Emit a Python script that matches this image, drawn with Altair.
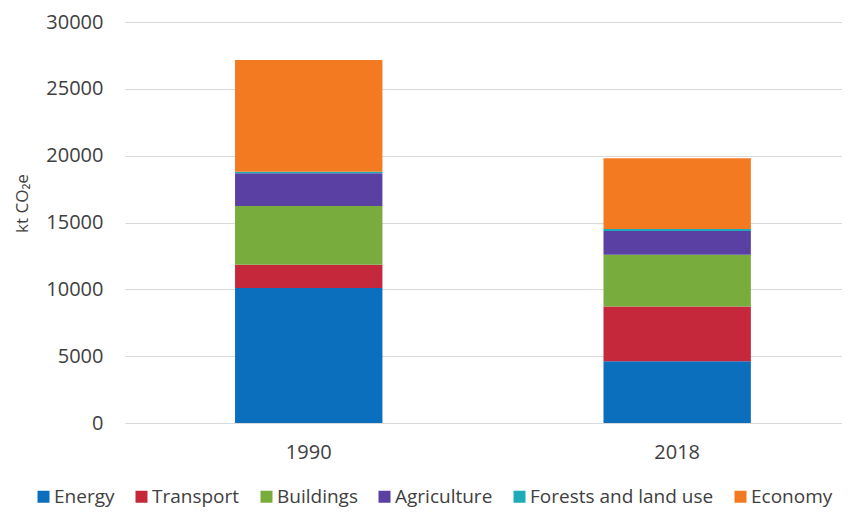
import altair as alt
import pandas as pd

years = ["1990", "2018"]
sectors = ["Energy", "Transport", "Buildings", "Agriculture", "Forests and land use", "Economy"]
colors = ["#0B6FBE", "#C4283A", "#78AC3D", "#5B40A4", "#1DAAB9", "#F47A22"]
values_1990 = [10100, 1740, 4390, 2460, 100, 8360]
values_2018 = [4620, 4090, 3870, 1790, 150, 5290]

rows = []
for yr, vals in zip(years, [values_1990, values_2018]):
    for i, (s, v) in enumerate(zip(sectors, vals)):
        rows.append({"year": yr, "sector": s, "value": v, "order": i})
df = pd.DataFrame(rows)

FONT = "Open Sans"
TXT = "#404040"

chart = alt.Chart(df).mark_bar().encode(
    x=alt.X("year:N", sort=years,
            scale=alt.Scale(paddingInner=0.6, paddingOuter=0.273, align=0.547),
            axis=alt.Axis(title=None, labelAngle=0, labelFontSize=20, labelColor=TXT,
                          labelFont=FONT, ticks=False, domain=True, domainColor="#d9d9d9",
                          labelPadding=19)),
    y=alt.Y("value:Q", stack="zero",
            scale=alt.Scale(domain=[0, 30000], nice=False),
            axis=alt.Axis(title="kt CO₂e", values=[0, 5000, 10000, 15000, 20000, 25000, 30000],
                          format="d", labelFontSize=20, labelColor=TXT, labelFont=FONT,
                          ticks=False, domain=False, gridColor="#d9d9d9", labelPadding=22,
                          titleFont=FONT, titleFontSize=17, titleFontWeight="normal",
                          titleColor=TXT, titleX=-103, titleY=181, titleAngle=-90,
                          titleAlign="center", titleBaseline="middle")),
    color=alt.Color("sector:N", sort=sectors,
                    scale=alt.Scale(domain=sectors, range=colors),
                    legend=alt.Legend(title=None, orient="none", direction="horizontal",
                                      legendX=-91, legendY=465, symbolType="square",
                                      symbolSize=144, symbolStrokeWidth=0, labelFontSize=19,
                                      labelFont=FONT, labelColor=TXT, columnPadding=17,
                                      labelOffset=1, labelLimit=400, padding=0)),
    order=alt.Order("order:Q", sort="ascending"),
).properties(
    width=717, height=401,
    background="white",
    autosize=alt.AutoSizeParams(type="none"),
    padding={"left": 117, "top": 14, "right": 0, "bottom": 85},
).configure_view(stroke=None)

chart.save("out.html", embed_options={"renderer": "svg", "actions": False})
